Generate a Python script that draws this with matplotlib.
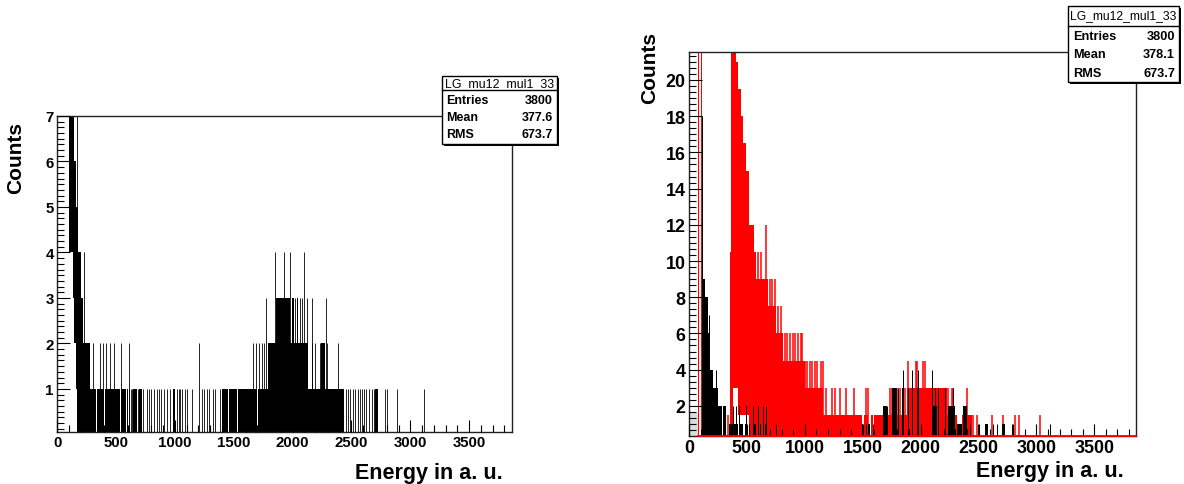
import matplotlib
matplotlib.use("Agg")
import matplotlib.pyplot as plt
from matplotlib.patches import Rectangle
from matplotlib.lines import Line2D
from matplotlib.ticker import MultipleLocator
import numpy as np

plt.rcParams['font.family'] = ['Liberation Sans', 'DejaVu Sans']

# ---------------------------------------------------------------------------
# Histogram content.  Dense stretches of the spectrum are stored as bands
# (energy range plus the lowest / highest count reached inside it); isolated
# bins are stored as single spikes.
# ---------------------------------------------------------------------------

# Left pad: LG_mu12_mul1_33 (black)
left_band_start = [98, 103, 137, 146, 160, 171, 180, 199, 222, 279, 338, 404, 478, 540, 590,
                   642, 698, 987, 1400, 1462, 1536, 1608, 1705, 1794, 1856, 1995, 2035, 2245, 2700]
left_band_end = [103, 137, 146, 160, 171, 180, 199, 222, 279, 332, 398, 470, 532, 582, 600,
                 680, 718, 1001, 1455, 1530, 1600, 1700, 2440, 2134, 1978, 2008, 2045, 2275, 2725]
left_band_min = [0, 4, 3, 2, 1, 0, 0, 0, 0, 0, 0, 0, 0, 0, 0,
                 0, 0, 0, 0, 0, 0, 0, 0, 0, 0, 0, 0, 0, 0]
left_band_max = [7.5, 7.5, 7.5, 6, 5, 5, 4, 3, 2, 1, 1, 1, 1, 1, 1,
                 1, 1, 1, 1, 1, 1, 1, 1, 2, 3, 3, 3, 2, 1]

left_spike_E = [165, 231,
                307, 364, 390, 418, 445, 485, 545, 610, 1205, 1667, 1690, 1715, 1742, 1760, 1803,
                2162, 2190, 2233, 2290, 2388,
                1774, 2020, 2060, 2077, 2119, 2168, 2281,
                1850, 1927, 1978, 2100,
                612, 625, 632, 690, 728, 760, 778, 800, 822, 845, 862, 880, 910, 935, 960,
                1015, 1032, 1045, 1062, 1090, 1106, 1142, 1230, 1248, 1272, 1290, 1324, 1342,
                1380, 2455, 2470, 2490, 2516, 2530, 2558, 2575, 2590, 2605, 2621, 2651, 2672,
                2690, 2785, 2800, 2890, 3116]
left_spike_n = [7.5, 4,
                2, 2, 2, 2, 2, 2, 2, 2, 2, 2, 2, 2, 2, 2, 2,
                2, 2, 2, 2, 2,
                3, 3, 3, 3, 3, 3, 3,
                4, 4, 4, 4,
                1, 1, 1, 1, 1, 1, 1, 1, 1, 1, 1, 1, 1, 1, 1,
                1, 1, 1, 1, 1, 1, 1, 1, 1, 1, 1, 1, 1,
                1, 1, 1, 1, 1, 1, 1, 1, 1, 1, 1, 1, 1,
                1, 1, 1, 1, 1]

# Right pad: black histogram
black_band_start = [112, 141, 161, 175, 204, 247, 290, 348, 392, 440, 485, 520, 560, 610, 660,
                    1491, 1549, 1678, 1750, 1840, 1970, 2096, 2240, 2312, 2369, 2556, 2700]
black_band_end = [141, 161, 175, 204, 247, 285, 320, 380, 420, 470, 500, 530, 575, 620, 672,
                  1505, 1563, 1707, 1793, 1860, 1990, 2139, 2297, 2355, 2398, 2585, 2729]
black_band_min = [0] * len(black_band_start)
black_band_max = [9, 8, 6, 4, 3, 2, 2, 1, 1, 1, 1, 1, 1, 1, 1,
                  1, 1, 2, 3, 3, 3, 2, 2, 1, 2, 1, 1]

black_spike_E = [112, 175, 233,
                 377, 406, 435, 492, 550, 593, 636, 665, 1714,
                 1851, 1929, 1980, 2096,
                 1808, 1895, 2125, 2153, 2211, 2283,
                 747, 1527, 1590, 2427, 2499, 2628, 2663, 2786, 2801, 3120]
black_spike_n = [18, 7, 4,
                 2, 2, 2, 2, 2, 2, 2, 2, 2,
                 4, 4, 4, 4,
                 3, 3, 3, 3, 3, 3,
                 1, 1, 1, 1, 1, 1, 1, 1, 1, 1]

# Right pad: light grey underflow shading next to the axis
grey_band_start = [0]
grey_band_end = [78]
grey_band_max = [1.6]

# Right pad: red histogram (filled with weight red_weight per entry)
red_weight = 1.5
red_band_start = [82, 104, 355, 362, 377, 409, 424, 449, 469, 492, 514, 521, 564, 580, 680, 751,
                  809, 1000, 1160, 1510, 1568, 1600, 1880, 2355]
red_band_end = [86, 108, 362, 377, 409, 424, 449, 469, 492, 514, 521, 564, 580, 680, 751, 809,
                1000, 1160, 1491, 1545, 1588, 2312, 2225, 2441]
red_band_min = [0, 0, 0, 0, 2, 2, 1, 1, 1, 1, 1, 0, 0, 0, 0, 0,
                0, 0, 0, 0, 0, 0, 0, 0]
red_band_max = [16, 16, 7, 16, 16, 14, 13, 12, 11, 10, 9, 8, 7, 6, 5, 4,
                3, 2, 1, 1, 1, 1, 2, 1]

red_spike_E = [665, 600, 625, 745, 700, 720, 795, 770,
               825, 847, 872, 897, 919, 941, 965, 980,
               1003, 1020, 1043, 1059, 1085, 1106, 1137, 1158,
               1184, 1232, 1261, 1304, 1356, 1425, 1529, 1543, 1736, 1750, 1765, 1793, 1822,
               1865, 2240, 2268, 2283, 2398,
               1894, 1960, 1972, 2018, 2038,
               334, 2455, 2484, 2614, 2715, 2815, 2850, 3031]
red_spike_n = [8, 7, 7, 6, 6, 6, 5, 5,
               4, 4, 4, 4, 4, 4, 4, 4,
               3, 3, 3, 3, 3, 3, 3, 3,
               2, 2, 2, 2, 2, 2, 2, 2, 2, 2, 2, 2, 2,
               2, 2, 2, 2, 2,
               3, 3, 3, 3, 3,
               1, 1, 1, 1, 1, 1, 1, 1]

# Statistics boxes
hist_name = 'LG_mu12_mul1_33'
stat_labels = ['Entries', 'Mean', 'RMS']
left_stat_values = ['3800', '377.6', '673.7']
right_stat_values = ['3800', '378.1', '673.7']

x_title = 'Energy in a. u.'
y_title = 'Counts'

# ---------------------------------------------------------------------------
W, H = 1184, 485
fig = plt.figure(figsize=(W / 100, H / 100), dpi=100)
fig.patch.set_facecolor('white')


def fx(px):
    return px / W


def fy(py):
    return 1 - py / H


def pixel_axes(x0, y0, x1, y1):
    return fig.add_axes([fx(x0), fy(y1), (x1 - x0) / W, (y1 - y0) / H])


axL = pixel_axes(57.2, 116.5, 512, 432.7)
axR = pixel_axes(689, 53.3, 1136, 436.7)


def draw_bands(ax, start, end, lo, hi, color, weight=1.0, z=1):
    s = np.asarray(start, float)
    e = np.asarray(end, float)
    lo = np.asarray(lo, float) * weight
    hi = np.asarray(hi, float) * weight
    ax.bar(s, hi - lo, width=e - s, bottom=lo, align='edge', color=color,
           linewidth=0, zorder=z)


def draw_spikes(ax, x, n, color, lw, weight=1.0, z=1.2):
    ax.vlines(x, 0, np.asarray(n, float) * weight, colors=color, linewidth=lw, zorder=z)


# left pad
draw_bands(axL, left_band_start, left_band_end, left_band_min, left_band_max, 'black')
draw_spikes(axL, left_spike_E, left_spike_n, 'black', 0.6)
axL.set_xlim(0, 3864)
axL.set_ylim(0.06, 7.01)

# right pad: red first, black drawn over it
draw_bands(axR, grey_band_start, grey_band_end, [0], grey_band_max, '#dcdcdc', z=0.8)
draw_bands(axR, red_band_start, red_band_end, red_band_min, red_band_max, '#ff0000', red_weight)
draw_spikes(axR, red_spike_E, red_spike_n, '#ff0000', 1.1, red_weight)
draw_bands(axR, black_band_start, black_band_end, black_band_min, black_band_max, 'black', z=1.5)
draw_spikes(axR, black_spike_E, black_spike_n, 'black', 0.7, z=1.6)
axR.set_xlim(0, 3860)
axR.set_ylim(0.35, 21.53)
# zero level of the red histogram runs along the frame bottom
axR.add_line(Line2D([red_band_start[0], axR.get_xlim()[1]], [axR.get_ylim()[0]] * 2,
                    color='#ff0000', linewidth=1.3, clip_on=False, zorder=3))

for ax, fs in ((axL, 10.8), (axR, 12.9)):
    ax.set_axisbelow(False)
    ax.xaxis.set_major_locator(MultipleLocator(500))
    ax.xaxis.set_minor_locator(MultipleLocator(100))
    ax.tick_params(axis='both', which='both', direction='in', top=False, right=False,
                   width=0.8, color='black')
    ax.tick_params(axis='both', which='major', length=9, labelsize=fs, pad=2.5)
    ax.tick_params(axis='both', which='minor', length=5)
    for sp in ax.spines.values():
        sp.set_linewidth(1.0)
        sp.set_color('#222222')

axL.yaxis.set_major_locator(MultipleLocator(1))
axL.yaxis.set_minor_locator(MultipleLocator(0.125))
axR.yaxis.set_major_locator(MultipleLocator(2))
axR.yaxis.set_minor_locator(MultipleLocator(2 / 6))
for ax in (axL, axR):
    for lab in ax.get_xticklabels() + ax.get_yticklabels():
        lab.set_fontweight('bold')


def stat_box(x0, y0, x1, y1, y_div, title_y, rows_y, tx_left, tx_right, fs_title, fs_row, values):
    shadow = Rectangle((fx(x0 + 2), fy(y1 + 2)), (x1 - x0) / W, (y1 - y0) / H,
                       transform=fig.transFigure, facecolor='black', edgecolor='none', zorder=10)
    box = Rectangle((fx(x0), fy(y1)), (x1 - x0) / W, (y1 - y0) / H,
                    transform=fig.transFigure, facecolor='white', edgecolor='black',
                    linewidth=1.0, zorder=11)
    fig.add_artist(shadow)
    fig.add_artist(box)
    fig.add_artist(Line2D([fx(x0), fx(x1)], [fy(y_div)] * 2, transform=fig.transFigure,
                          color='black', linewidth=1.0, zorder=12))
    fig.text(fx((x0 + x1) / 2), fy(title_y), hist_name, ha='center', va='center',
             fontsize=fs_title, zorder=13)
    for lab, val, ry in zip(stat_labels, values, rows_y):
        fig.text(fx(tx_left), fy(ry), lab, ha='left', va='center', fontsize=fs_row,
                 fontweight='bold', zorder=13)
        fig.text(fx(tx_right), fy(ry), val, ha='right', va='center', fontsize=fs_row,
                 fontweight='bold', zorder=13)


stat_box(442, 77, 557, 145, 91, 84.5, [101.5, 118, 134.5], 446, 553, 8.9, 9.0, left_stat_values)
stat_box(1068, 7, 1179, 83, 26.7, 16.5, [37, 55.5, 74], 1073, 1175, 8.7, 9.2, right_stat_values)

# axis titles
fig.text(fx(16), fy(158), y_title, rotation=90, ha='center', va='center',
         fontsize=15, fontweight='bold')
fig.text(fx(650), fy(68), y_title, rotation=90, ha='center', va='center',
         fontsize=15, fontweight='bold')
fig.text(fx(428.5), fy(474), x_title, ha='center', va='center', fontsize=15.5,
         fontweight='bold')
fig.text(fx(1050), fy(472), x_title, ha='center', va='center', fontsize=15.5,
         fontweight='bold')

fig.savefig('out.png', dpi=100)
